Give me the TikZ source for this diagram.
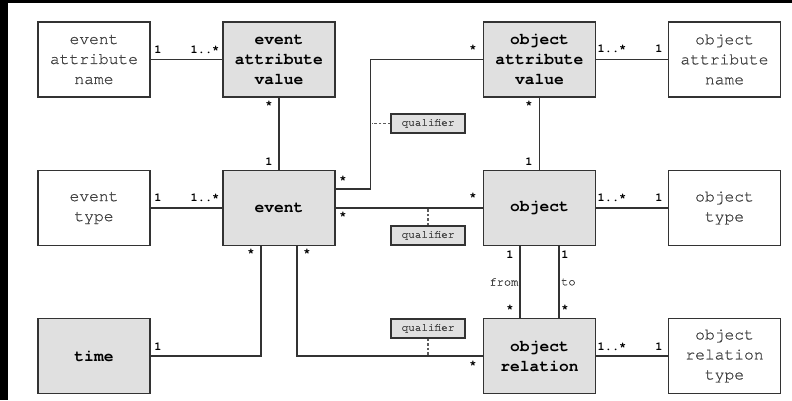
\documentclass[tikz,border=0pt]{standalone}
\usepackage{fontspec}
\newfontfamily\cour{texgyrecursor}[Extension=.otf, UprightFont=*-regular, BoldFont=*-bold]
\newfontfamily\courmid{texgyrecursor-regular.otf}[FakeBold=0.7]
\definecolor{boxgray}{HTML}{E0E0E0}
\definecolor{edge}{HTML}{333333}
\definecolor{txtgray}{HTML}{404040}
\tikzset{
  entity/.style={draw=edge, line width=1.5pt, minimum width=112pt, minimum height=75pt,
    inner sep=0pt, align=center, font=\courmid\fontsize{16.3}{20}\selectfont},
  plainbox/.style={entity, fill=white, text=txtgray},
  corebox/.style={entity, fill=boxgray, text=black, font=\cour\bfseries\fontsize{16.3}{20}\selectfont},
  qualbox/.style={draw=edge, line width=1.2pt, fill=boxgray, minimum width=74pt, minimum height=19pt,
    inner sep=0pt, text=txtgray, font=\courmid\fontsize{11}{13}\selectfont},
  link/.style={draw=edge, line width=1.3pt},
  qlink/.style={draw=edge!80, line width=1.1pt, dash pattern=on 2.5pt off 2pt},
  mult/.style={inner sep=0pt, text=black, font=\cour\bfseries\fontsize{12}{14}\selectfont},
  role/.style={inner sep=0pt, text=txtgray, font=\courmid\fontsize{12}{14}\selectfont},
}
\begin{document}
\begin{tikzpicture}[x=1pt,y=-1pt]
\useasboundingbox (0,0) rectangle (792,400);
\fill[white] (0,0) rectangle (792,400);
\fill[black] (0,0) rectangle (8,400);
\fill[black] (0,0) rectangle (792,3);

% entities
\node[plainbox] (ean) at (94,59.5) {event\\attribute\\name};
\node[corebox]  (eav) at (279,59.5) {event\\attribute\\value};
\node[corebox]  (oav) at (539.5,59.5) {object\\attribute\\value};
\node[plainbox] (oan) at (724.5,59.5) {object\\attribute\\name};
\node[plainbox] (et)  at (94,208) {event\\type};
\node[corebox]  (ev)  at (279,208) {event};
\node[corebox]  (ob)  at (539.5,208) {object};
\node[plainbox] (ot)  at (724.5,208) {object\\type};
\node[corebox]  (tm)  at (94,356) {time};
\node[corebox]  (orl) at (539.5,356) {object\\relation};
\node[plainbox] (ort) at (724.5,356) {object\\relation\\type};

% associations
\draw[link] (ean) -- (eav);
\draw[link] (eav) -- (ev);
\draw[link] (oan) -- (oav);
\draw[link] (oav) -- (ob);
\draw[link] (et) -- (ev);
\draw[link] (ev) -- (ob);
\draw[link] (ob) -- (ot);
\draw[link] (orl) -- (ort);
\draw[link] ([yshift=19pt]ev.east) -| ([xshift=-112pt]oav.west) -- (oav.west);
\draw[link] ([xshift=-18pt]ev.south) |- (tm.east);
\draw[link] ([xshift=18pt]ev.south) |- (orl.west);
\draw[link] ([xshift=-19.5pt]ob.south) -- ([xshift=-19.5pt]orl.north);
\draw[link] ([xshift=19.5pt]ob.south) -- ([xshift=19.5pt]orl.north);

% qualifiers
\node[qualbox] (q1) at (428,123.5) {qualifier};
\node[qualbox] (q2) at (428,235.5) {qualifier};
\node[qualbox] (q3) at (428,328.5) {qualifier};
\coordinate (k1) at (372,123.5);
\coordinate (k2) at (428,208);
\coordinate (k3) at (428,356);
\draw[qlink] (q1.west) -- (k1);
\draw[qlink] (q2.north) -- (k2);
\draw[qlink] (q3.south) -- (k3);

% multiplicities
\node[mult] (m1) at (158,50) {1};
\node[mult] (m2) at (205,50) {1..*};
\node[mult] (m3) at (269,105) {*};
\node[mult] (m4) at (269,162) {1};
\node[mult] (m5) at (343,180) {*};
\node[mult] (m6) at (158,198) {1};
\node[mult] (m7) at (205,198) {1..*};
\node[mult] (m8) at (343,216) {*};
\node[mult] (m9) at (473,197) {*};
\node[mult] (m10) at (473,49) {*};
\node[mult] (m11) at (612,49) {1..*};
\node[mult] (m12) at (659,49) {1};
\node[mult] (m13) at (529,105) {*};
\node[mult] (m14) at (529,162) {1};
\node[mult] (m15) at (612,198) {1..*};
\node[mult] (m16) at (659,198) {1};
\node[mult] (m17) at (510,255) {1};
\node[mult] (m18) at (565,255) {1};
\node[mult] (m19) at (510,309) {*};
\node[mult] (m20) at (565,309) {*};
\node[mult] (m21) at (473,365) {*};
\node[mult] (m22) at (612,347) {1..*};
\node[mult] (m23) at (659,347) {1};
\node[mult] (m24) at (251,253) {*};
\node[mult] (m25) at (307,253) {*};
\node[mult] (m26) at (158,347) {1};

% roles
\node[role, anchor=east] (rf) at (518.5,282) {from};
\node[role, anchor=west] (rt) at (561,282) {to};
\end{tikzpicture}
\end{document}
